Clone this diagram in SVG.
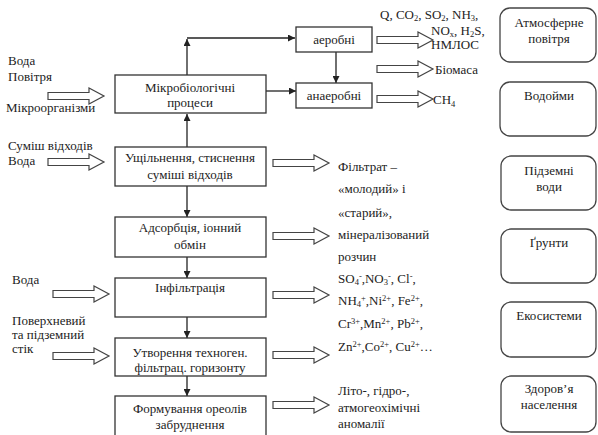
<svg xmlns="http://www.w3.org/2000/svg" width="598" height="435" viewBox="0 0 598 435">
<defs>
<marker id="ah" viewBox="0 0 10 10" refX="10" refY="5" markerWidth="7" markerHeight="7" markerUnits="userSpaceOnUse" orient="auto"><path d="M0,0 L10,5 L0,10 Z" fill="#222"/></marker>
<path id="hollow" d="M0,-3.5 H41 V-8 L56,0 L41,8 V3.5 H0 Z" fill="#fff" stroke="#444" stroke-width="1.2"/>
<rect id="mainbox" width="151" height="39" fill="#fff" stroke="#333" stroke-width="1.3"/>
</defs>

<g id="connectors" fill="none" stroke="#222" stroke-width="1.3">
<path d="M187,147 V114" marker-end="url(#ah)"/>
<path d="M187,75 V39" marker-end="url(#ah)"/>
<path d="M187,38 H295" marker-end="url(#ah)"/>
<path d="M336,52 V83" marker-end="url(#ah)"/>
<path d="M266,91 H296" marker-end="url(#ah)"/>
<path d="M187,186 V217" marker-end="url(#ah)"/>
<path d="M187,257 V278" marker-end="url(#ah)"/>
<path d="M187,317 V338" marker-end="url(#ah)"/>
<path d="M187,376 V396" marker-end="url(#ah)"/>
</g>
<g id="block-arrows">
<use href="#hollow" x="48" y="96"/>
<use href="#hollow" x="48" y="162"/>
<use href="#hollow" x="53" y="294"/>
<use href="#hollow" x="53" y="356"/>
<use href="#hollow" x="377" y="40"/>
<use href="#hollow" x="377" y="69"/>
<use href="#hollow" x="377" y="99"/>
<use href="#hollow" x="273" y="163"/>
<use href="#hollow" x="273" y="236"/>
<use href="#hollow" x="273" y="295"/>
<use href="#hollow" x="273" y="355"/>
<use href="#hollow" x="273" y="405"/>
</g>

<g font-family="Liberation Serif" font-size="13" fill="#222">
<g id="inputs">
<text x="8" y="65">Вода</text>
<text x="8" y="81">Повітря</text>
<text x="6" y="112">Мікроорганізми</text>
<text x="8" y="150">Суміш відходів</text>
<text x="8" y="165">Вода</text>
<text x="12" y="284">Вода</text>
<text x="12" y="325">Поверхневий</text>
<text x="12" y="339">та підземний</text>
<text x="12" y="353">стік</text>
</g>

<g text-anchor="middle">
<g id="n-micro"><rect x="115" y="75" width="151" height="38" fill="#fff" stroke="#333" stroke-width="1.3"/><text x="190" y="92">Мікробіологічні</text><text x="190" y="107">процеси</text></g>
<g id="n-aerob"><rect x="296" y="27" width="76" height="25" fill="#fff" stroke="#333" stroke-width="1.3"/><text x="334" y="44">аеробні</text></g>
<g id="n-anaerob"><rect x="296" y="83" width="76" height="25" fill="#fff" stroke="#333" stroke-width="1.3"/><text x="334" y="100">анаеробні</text></g>
<g id="n-ushch"><use href="#mainbox" x="115" y="147"/><text x="190" y="162">Ущільнення, стиснення</text><text x="190" y="179">суміші відходів</text></g>
<g id="n-adsorb"><rect x="115" y="217" width="151" height="40" fill="#fff" stroke="#333" stroke-width="1.3"/><text x="190" y="232">Адсорбція, іонний</text><text x="190" y="249">обмін</text></g>
<g id="n-infil"><use href="#mainbox" x="115" y="278"/><text x="190" y="292">Інфільтрація</text></g>
<g id="n-utvor"><rect x="115" y="338" width="151" height="38" fill="#fff" stroke="#333" stroke-width="1.3"/><text x="190" y="357">Утворення техноген.</text><text x="190" y="372">фільтрац. горизонту</text></g>
<g id="n-form"><rect x="115" y="396" width="151" height="42" fill="#fff" stroke="#333" stroke-width="1.3"/><text x="190" y="413">Формування ореолів</text><text x="190" y="429">забруднення</text></g>
</g>

<g id="outputs">
<text x="380" y="19">Q, CO<tspan font-size="8.5" dy="2">2</tspan><tspan dy="-2">, SO</tspan><tspan font-size="8.5" dy="2">2</tspan><tspan dy="-2">, NH</tspan><tspan font-size="8.5" dy="2">3</tspan><tspan dy="-2">,</tspan></text>
<text x="431" y="34.5">NO<tspan font-size="8.5" dy="2">x</tspan><tspan dy="-2">, H</tspan><tspan font-size="8.5" dy="2">2</tspan><tspan dy="-2">S,</tspan></text>
<text x="431" y="49">НМЛОС</text>
<text x="435" y="74">Біомаса</text>
<text x="433" y="104">CH<tspan font-size="8.5" dy="2.5">4</tspan></text>
<text x="338" y="171">Фільтрат –</text>
<text x="338" y="193">«молодий» і</text>
<text x="338" y="217">«старий»,</text>
<text x="338" y="239">мінералізований</text>
<text x="338" y="261">розчин</text>
<text x="338" y="283">SO<tspan font-size="8.5" dy="2">4</tspan><tspan font-size="8.5" dy="-6">-</tspan><tspan dy="4">,NO</tspan><tspan font-size="8.5" dy="2">3</tspan><tspan font-size="8.5" dy="-6">-</tspan><tspan dy="4">, Cl</tspan><tspan font-size="8.5" dy="-4">-</tspan><tspan dy="4">,</tspan></text>
<text x="338" y="305">NH<tspan font-size="8.5" dy="2">4</tspan><tspan font-size="8.5" dy="-6">+</tspan><tspan dy="4">,Ni</tspan><tspan font-size="8.5" dy="-4">2+</tspan><tspan dy="4">, Fe</tspan><tspan font-size="8.5" dy="-4">2+</tspan><tspan dy="4">,</tspan></text>
<text x="338" y="328">Cr<tspan font-size="8.5" dy="-4">3+</tspan><tspan dy="4">,Mn</tspan><tspan font-size="8.5" dy="-4">2+</tspan><tspan dy="4">, Pb</tspan><tspan font-size="8.5" dy="-4">2+</tspan><tspan dy="4">,</tspan></text>
<text x="338" y="351">Zn<tspan font-size="8.5" dy="-4">2+</tspan><tspan dy="4">,Co</tspan><tspan font-size="8.5" dy="-4">2+</tspan><tspan dy="4">, Cu</tspan><tspan font-size="8.5" dy="-4">2+</tspan><tspan dy="4">…</tspan></text>
<text x="338" y="395">Літо-, гідро-,</text>
<text x="338" y="412">атмогеохімічні</text>
<text x="338" y="428">аномалії</text>
</g>

<g text-anchor="middle">
<g id="n-atm"><rect x="500" y="8" width="96" height="54" rx="10" fill="#fff" stroke="#444" stroke-width="1.3"/><text x="549" y="27">Атмосферне</text><text x="549" y="43">повітря</text></g>
<g id="n-vodoimy"><rect x="500" y="82" width="96" height="54" rx="10" fill="#fff" stroke="#444" stroke-width="1.3"/><text x="549" y="100">Водойми</text></g>
<g id="n-pidzemni"><rect x="501" y="156" width="95" height="54" rx="10" fill="#fff" stroke="#444" stroke-width="1.3"/><text x="549" y="175">Підземні</text><text x="549" y="191">води</text></g>
<g id="n-grunty"><rect x="501" y="229" width="95" height="54" rx="10" fill="#fff" stroke="#444" stroke-width="1.3"/><text x="549" y="247">Ґрунти</text></g>
<g id="n-ekosys"><rect x="501" y="302" width="95" height="55" rx="10" fill="#fff" stroke="#444" stroke-width="1.3"/><text x="549" y="320">Екосистеми</text></g>
<g id="n-zdorov"><rect x="501" y="376" width="95" height="56" rx="10" fill="#fff" stroke="#444" stroke-width="1.3"/><text x="549" y="393">Здоров’я</text><text x="549" y="409">населення</text></g>
</g>
</g>
</svg>
